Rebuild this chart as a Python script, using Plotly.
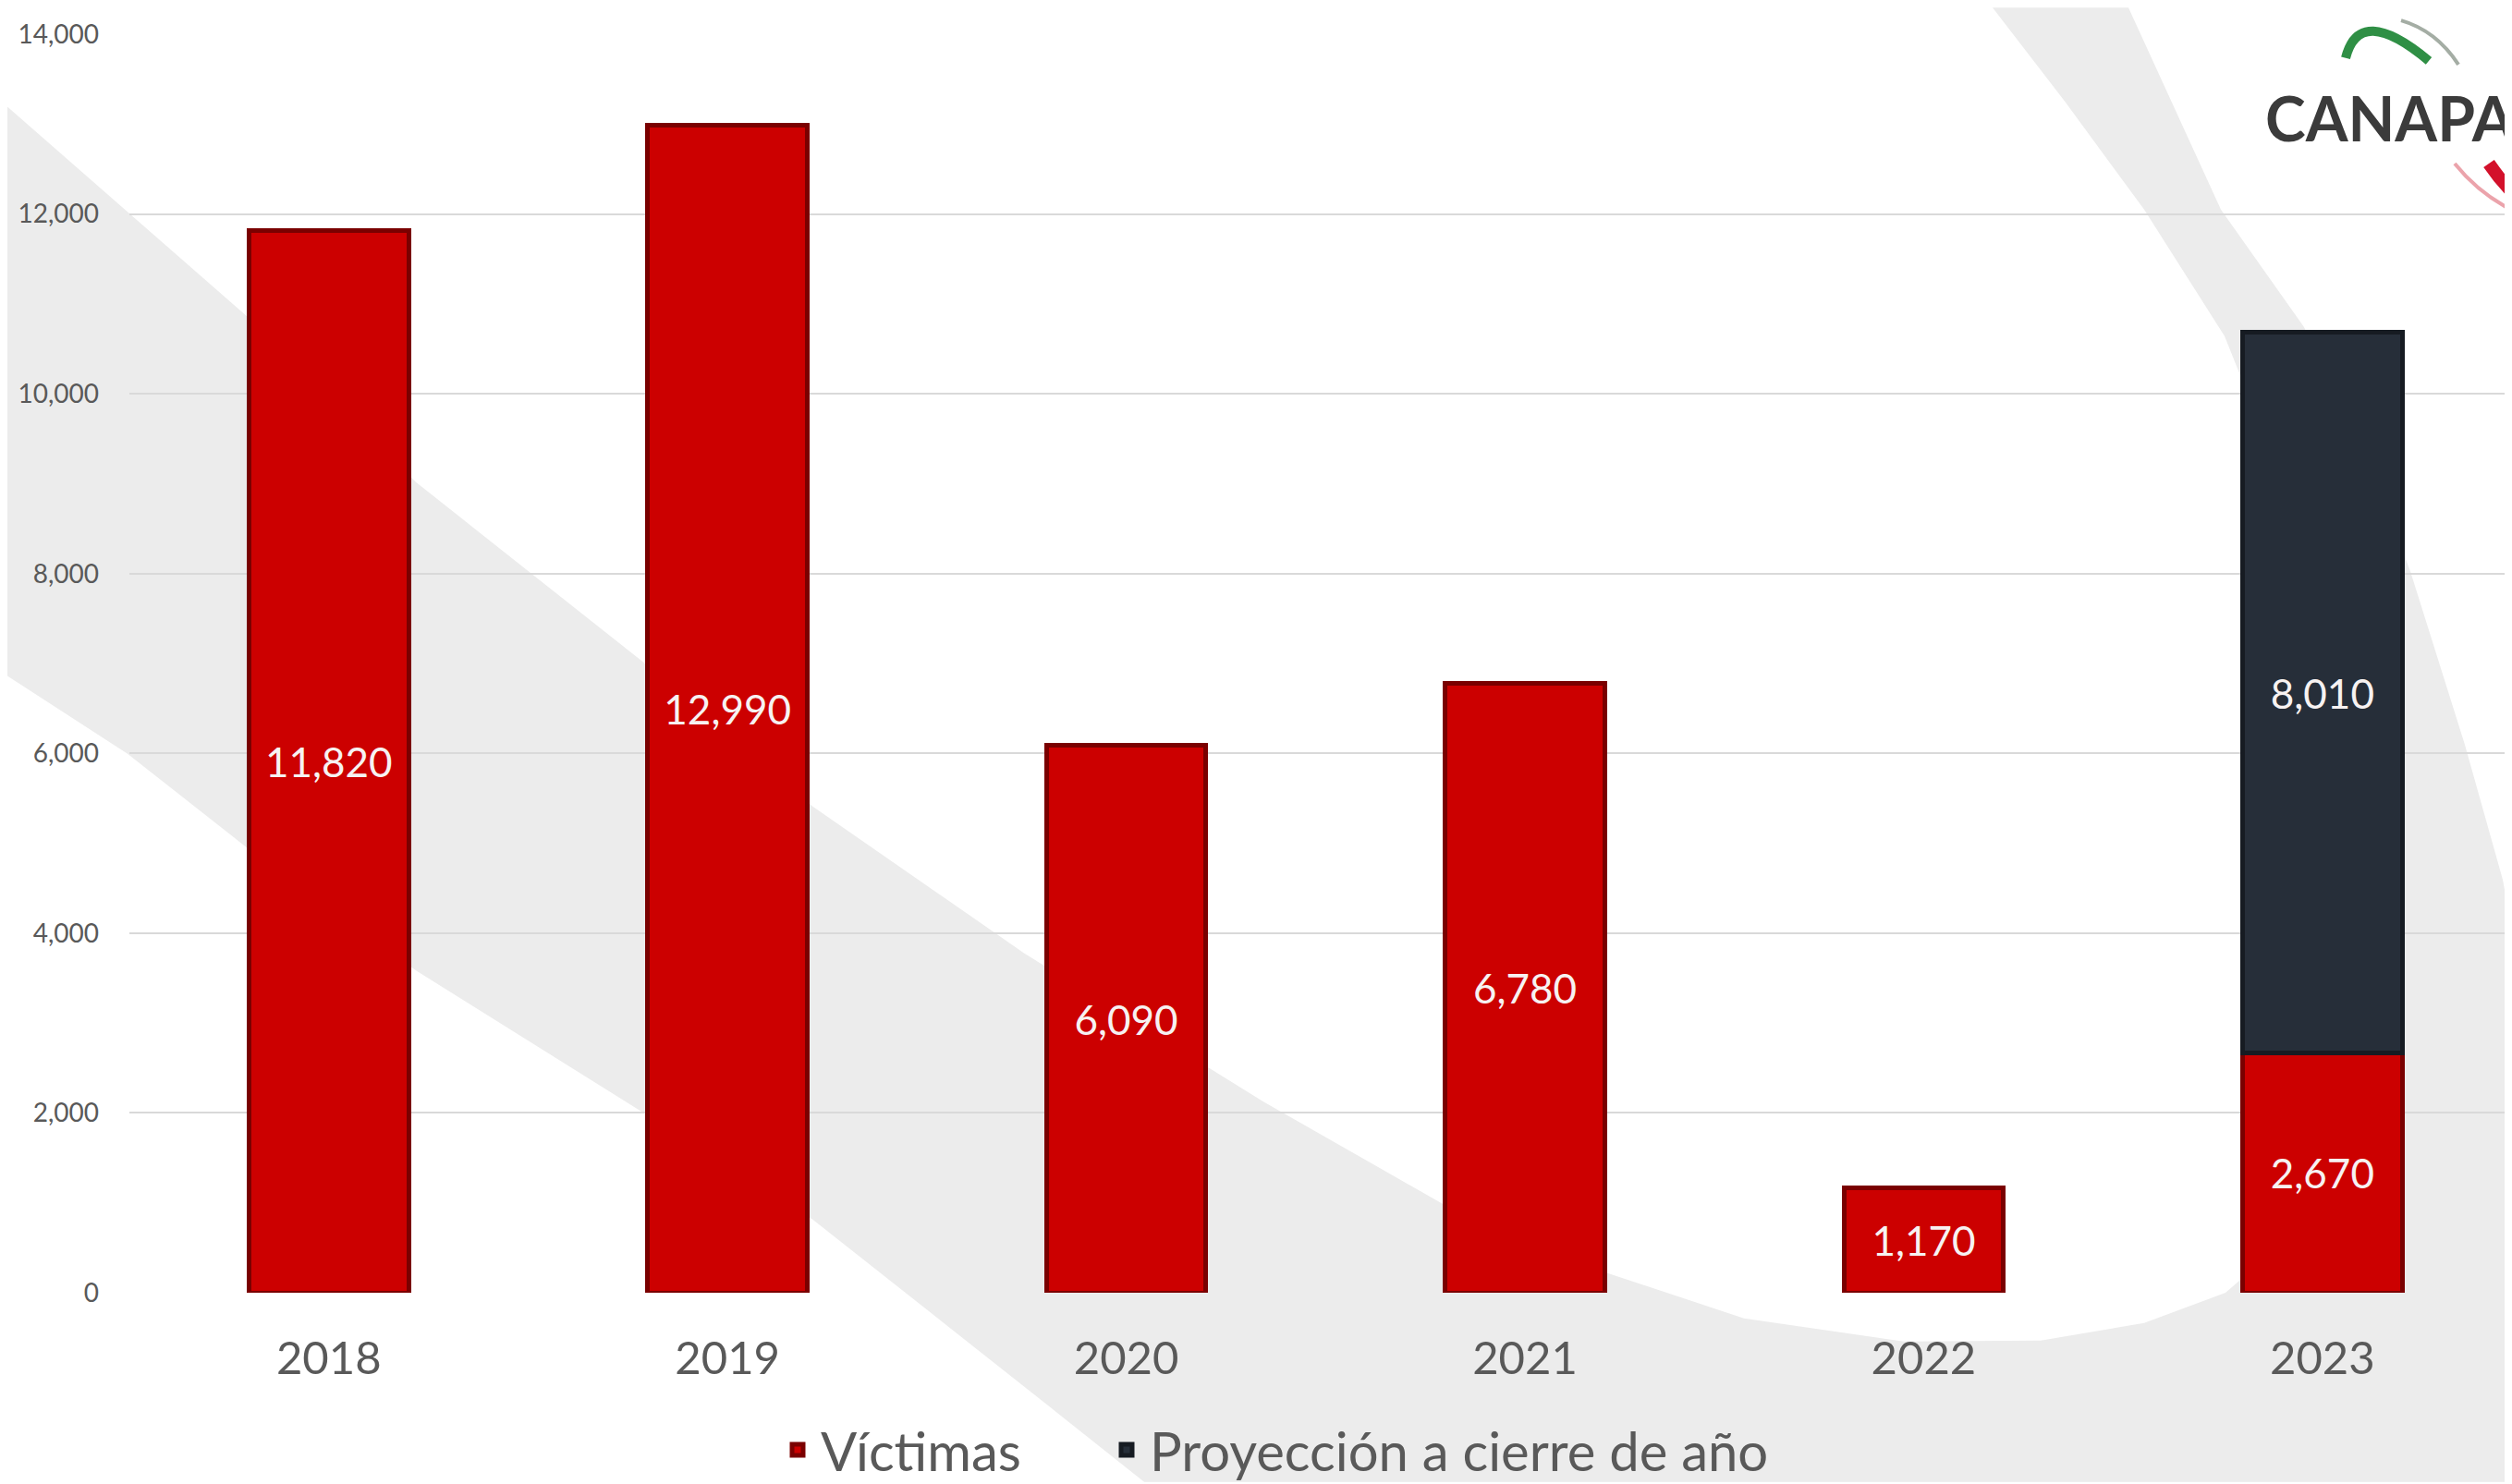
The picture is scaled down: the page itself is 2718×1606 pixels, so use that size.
import plotly.graph_objects as go

# ---------------- data ----------------
years = ["2018", "2019", "2020", "2021", "2022", "2023"]
victimas = [11820, 12990, 6090, 6780, 1170, 2670]
proyeccion = [None, None, None, None, None, 8010]
y_ticks = [0, 2000, 4000, 6000, 8000, 10000, 12000, 14000]
series_names = ["Víctimas", "Proyección a cierre de año"]

# ---------------- geometry ----------------
W_FIG, H_FIG = 2718, 1606
ML, MR, MT, MB = 132, 0, 29, 206
PW = W_FIG - ML - MR
PH = H_FIG - MT - MB


def P(x, y):
    return f"{(x - ML) / PW:.5f},{1 - (y - MT) / PH:.5f}"


def poly(points):
    return "M " + " L ".join(P(*p) for p in points) + " Z"


FONT = "Lato, 'Open Sans', sans-serif"

fig = go.Figure()
fig.add_trace(go.Bar(
    x=years, y=victimas, name=series_names[0], legend="legend",
    marker=dict(color="#cc0000", line=dict(color="#7a0000", width=5)),
    texttemplate="%{y:,}", textposition="inside", insidetextanchor="middle",
    textangle=0, textfont=dict(color="#f7f2f2", size=44, family=FONT),
    width=0.4,
))
fig.add_trace(go.Bar(
    x=years, y=proyeccion, name=series_names[1], legend="legend2",
    marker=dict(color="#262e39", line=dict(color="#161b22", width=5)),
    texttemplate="%{y:,}", textposition="inside", insidetextanchor="middle",
    textangle=0, textfont=dict(color="#f7f2f2", size=44, family=FONT),
    width=0.4,
))

# decorative watermark band (background)
inner = [(0, 108), (269, 345), (442, 517), (693, 717), (871, 870), (1100, 1030),
         (1359, 1192), (1619, 1341), (1879, 1428), (2052, 1453), (2200, 1452),
         (2312, 1433), (2400, 1400), (2480, 1330), (2530, 1200), (2545, 1000),
         (2530, 800), (2490, 600), (2440, 461), (2399, 358), (2312, 220),
         (2226, 102), (2148, 0)]
outer = [(2295, 0), (2395, 220), (2485, 348), (2545, 470), (2600, 614),
         (2659, 803), (2700, 950), (2718, 1050), (2718, 1606), (1230, 1606),
         (1135, 1530), (871, 1320), (693, 1207), (442, 1049), (269, 923),
         (130, 813), (0, 728)]
shapes = [dict(type="path", xref="paper", yref="paper", path=poly(inner + outer),
               fillcolor="#ececec", line=dict(width=0), layer="below")]

# logo arcs
def arc(p0, p1, p2, color, width):
    return dict(type="path", xref="paper", yref="paper",
                path=f"M {P(*p0)} Q {P(*p1)} {P(*p2)}",
                line=dict(color=color, width=width), layer="above")

shapes += [
    arc((2530, 55), (2545, -5), (2620, 58), "#2f8f45", 10),
    arc((2590, 14), (2628, 25), (2652, 62), "#a4ada4", 4),
    arc((2648, 170), (2672, 200), (2705, 218), "#eba3ab", 4),
    arc((2685, 170), (2702, 195), (2722, 212), "#d3112b", 14),
]

legend_common = dict(orientation="h", y=-0.125, yanchor="middle", xanchor="left",
                     font=dict(size=58, color="#595959"),
                     bgcolor="rgba(0,0,0,0)", itemwidth=40)

fig.update_layout(
    width=W_FIG, height=H_FIG,
    margin=dict(l=ML, r=MR, t=MT, b=MB),
    barmode="stack",
    paper_bgcolor="white",
    plot_bgcolor="rgba(0,0,0,0)",
    font=dict(family=FONT, color="#595959"),
    shapes=shapes,
    showlegend=True,
    legend=dict(legend_common, x=(830 - ML) / PW),
    legend2=dict(legend_common, x=(1186 - ML) / PW),
    annotations=[dict(text="<b>CANAPA</b>", xref="paper", yref="paper",
                      x=(2716 - ML) / PW, y=1 - (120 - MT) / PH,
                      xanchor="right", yanchor="middle", showarrow=False,
                      font=dict(size=66, color="#3b3b3b", family=FONT))],
)
fig.update_xaxes(range=[-0.5, 5.494], showgrid=False, showline=False,
                 ticks="", tickfont=dict(size=49, color="#595959"),
                 ticklabelstandoff=38)
fig.update_yaxes(range=[0, 14000], tickvals=y_ticks, tickformat=",",
                 showgrid=True, gridcolor="#d9d9d9", gridwidth=2,
                 zeroline=False, showline=False, ticks="",
                 tickfont=dict(size=28, color="#595959"),
                 ticklabelstandoff=32)

fig.write_html("out.html")
